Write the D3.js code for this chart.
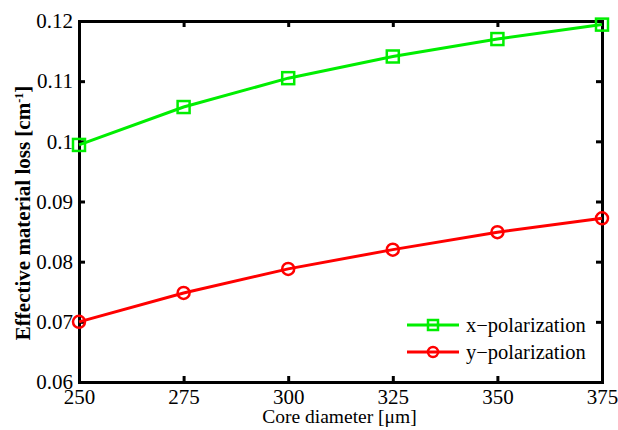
<!DOCTYPE html>
<html>
<head>
<meta charset="utf-8">
<script src="https://cdn.jsdelivr.net/npm/d3@7"></script>
<style>
  body { margin: 0; background: #fff; }
  svg text { font-family: "Liberation Serif", "Times New Roman", "DejaVu Serif", serif; fill: #000; }
</style>
</head>
<body>
<div id="chart"></div>
<script>
// core diameter sweep, effective material loss per polarization
const diameters = [250, 275, 300, 325, 350, 375]
const xPol = [0.0994, 0.1057, 0.1105, 0.1141, 0.1170, 0.1194]
const yPol = [0.0700, 0.0748, 0.0788, 0.0820, 0.0849, 0.0872]
const xTicks = [250, 275, 300, 325, 350, 375]
const yTicks = [0.06, 0.07, 0.08, 0.09, 0.1, 0.11, 0.12]
const yTickLabels = ["0.06", "0.07", "0.08", "0.09", "0.1", "0.11", "0.12"]

const W = 618, H = 430
const margin = { top: 21, right: 16, bottom: 48, left: 79 }
const plotW = W - margin.left - margin.right
const plotH = H - margin.top - margin.bottom
const serif = "'Liberation Serif', 'Times New Roman', serif"

const svg = d3.select("#chart").append("svg")
  .attr("width", W).attr("height", H)

const g = svg.append("g")
  .attr("transform", `translate(${margin.left},${margin.top})`)

const x = d3.scaleLinear().domain([250, 375]).range([0, plotW])
const y = d3.scaleLinear().domain([0.06, 0.12]).range([plotH, 0])

// inward ticks on all four sides, like a matlab box
const tickLen = 6
g.append("g").attr("transform", `translate(0,${plotH})`)
  .call(d3.axisBottom(x).tickValues(xTicks).tickSize(-tickLen).tickPadding(7).tickFormat(d3.format("d")))
g.append("g")
  .call(d3.axisTop(x).tickValues(xTicks).tickSize(-tickLen).tickFormat(""))
g.append("g")
  .call(d3.axisLeft(y).tickValues(yTicks).tickSize(-tickLen).tickPadding(6)
    .tickFormat((d, i) => yTickLabels[i]))
g.append("g").attr("transform", `translate(${plotW},0)`)
  .call(d3.axisRight(y).tickValues(yTicks).tickSize(-tickLen).tickFormat(""))

g.selectAll("g").attr("font-family", serif).attr("font-size", 21)
g.selectAll(".domain").attr("stroke", "#000").attr("stroke-width", 3)
g.selectAll(".tick line").attr("stroke", "#000").attr("stroke-width", 3)
g.selectAll(".tick text").attr("fill", "#000")

// axis titles
svg.append("text")
  .attr("x", margin.left + plotW / 2 - 1).attr("y", 423)
  .attr("text-anchor", "middle")
  .attr("font-family", serif).attr("font-size", 19.5)
  .text("Core diameter [μm]")

const ylab = svg.append("text")
  .attr("transform", "translate(30,213) rotate(-90)")
  .attr("text-anchor", "middle")
  .attr("font-family", serif).attr("font-size", 21).attr("font-weight", "bold")
ylab.append("tspan").text("Effective material loss [cm")
ylab.append("tspan").attr("dy", -7).attr("font-size", 12).text("-1")
ylab.append("tspan").attr("dy", 7).text("]")

const series = [
  { name: "x\u2212polarization", values: xPol, color: "#00ee00", marker: "square" },
  { name: "y\u2212polarization", values: yPol, color: "#ff0000", marker: "circle" }
]

const line = d3.line().x(d => x(d[0])).y(d => y(d[1]))

function drawMarker(sel, type, color, r) {
  if (type === "square") {
    sel.append("rect")
      .attr("x", -r).attr("y", -r).attr("width", 2 * r).attr("height", 2 * r)
      .attr("fill", "none").attr("stroke", color).attr("stroke-width", 2.5)
  } else {
    sel.append("circle").attr("r", r)
      .attr("fill", "none").attr("stroke", color).attr("stroke-width", 2.5)
  }
}

series.forEach(s => {
  const pts = diameters.map((d, i) => [d, s.values[i]])
  g.append("path").datum(pts)
    .attr("d", line)
    .attr("fill", "none").attr("stroke", s.color).attr("stroke-width", 3)
  pts.forEach(p => {
    const m = g.append("g").attr("transform", `translate(${x(p[0])},${y(p[1])})`)
    drawMarker(m, s.marker, s.color, 6)
  })
})

// legend in the lower right corner
const legend = svg.append("g").attr("transform", "translate(407,325)")
series.forEach((s, i) => {
  const row = legend.append("g").attr("transform", `translate(0,${i * 27})`)
  row.append("line").attr("x1", 0).attr("x2", 52).attr("y1", 0).attr("y2", 0)
    .attr("stroke", s.color).attr("stroke-width", 3)
  drawMarker(row.append("g").attr("transform", "translate(26,0)"), s.marker, s.color, 5)
  row.append("text").attr("x", 59).attr("y", 7)
    .attr("font-family", serif).attr("font-size", 20.5)
    .text(s.name)
})
</script>
</body>
</html>
